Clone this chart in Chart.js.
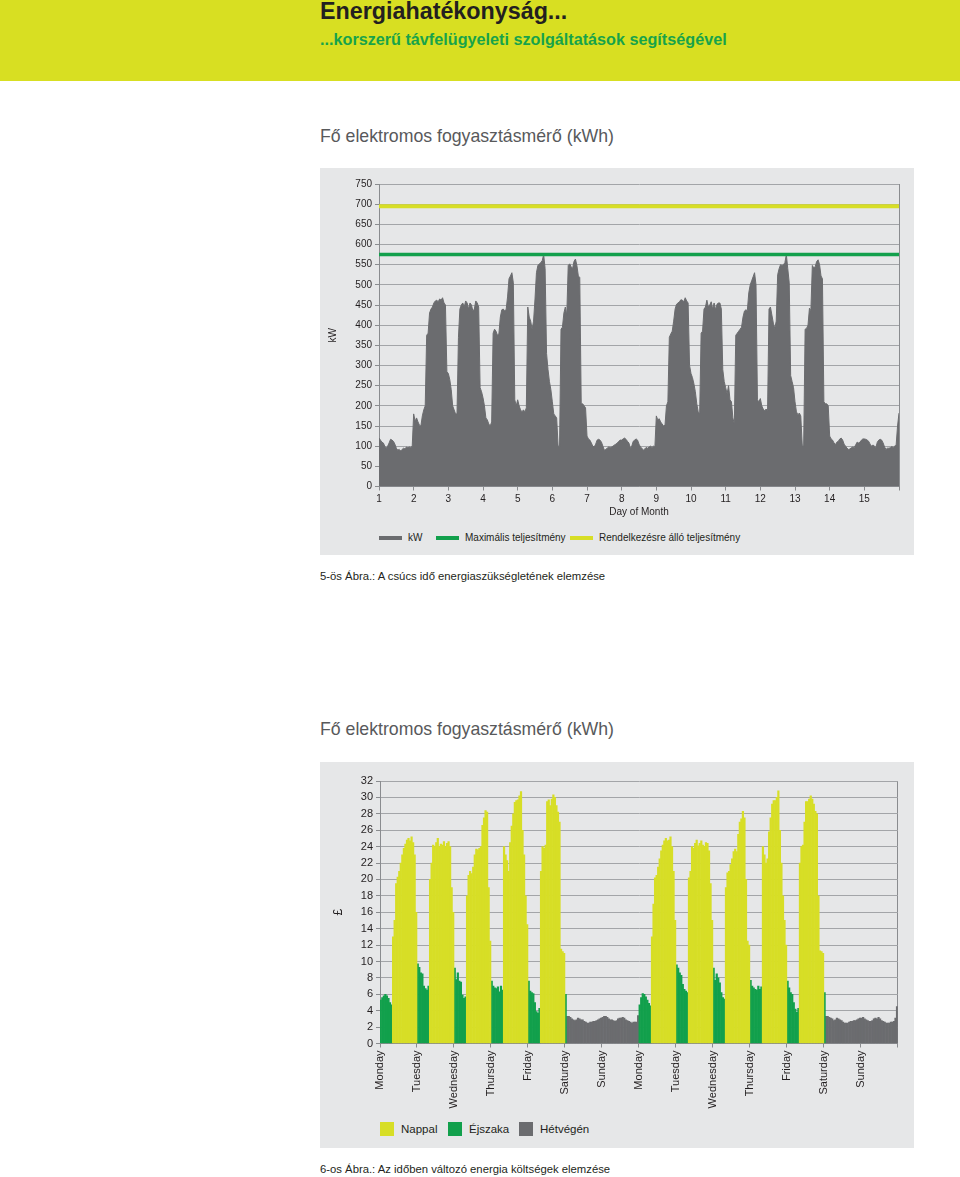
<!DOCTYPE html>
<html lang="hu">
<head>
<meta charset="utf-8">
<title>Energiahatékonyság</title>
<script src="https://cdn.jsdelivr.net/npm/chart.js@4.4.1/dist/chart.umd.min.js"></script>
<style>
  html, body { margin: 0; padding: 0; background: #fff; }
  body { width: 960px; height: 1177px; position: relative; overflow: hidden;
         font-family: "Liberation Sans", Arial, sans-serif; }
  .band { position: absolute; left: 0; top: 0; width: 960px; height: 81px; background: #d8df22; }
  .txt { position: absolute; left: 320px; white-space: nowrap; }
  #title { top: 0; font-size: 23.3px; line-height: 23.3px; font-weight: bold; color: #231f20; }
  #subtitle { top: 31.2px; font-size: 16.2px; line-height: 16.2px; font-weight: bold; color: #17a34a; }
  .chartTitle { font-size: 17.7px; line-height: 17.7px; color: #58595b; }
  .caption { font-size: 11.3px; line-height: 11.3px; color: #231f20; }
  .panel { position: absolute; left: 320px; width: 594px; background: #e6e7e8; }
  .panel canvas { position: absolute; left: 0; top: 0; }
  .leg { position: absolute; display: flex; align-items: center; white-space: nowrap; color: #231f20; }
  .leg i { display: block; flex: none; }
</style>
</head>
<body>
<div class="band"></div>
<div class="txt" id="title">Energiahatékonyság...</div>
<div class="txt" id="subtitle">...korszerű távfelügyeleti szolgáltatások segítségével</div>

<div class="txt chartTitle" style="top:128.2px">Fő elektromos fogyasztásmérő (kWh)</div>
<div class="panel" id="panel1" style="top:168px;height:387px">
  <canvas id="c1" width="594" height="354"></canvas>
</div>
<div class="txt caption" style="top:571.4px">5-ös Ábra.: A csúcs idő energiaszükségletének elemzése</div>

<div class="txt chartTitle" style="top:721.2px">Fő elektromos fogyasztásmérő (kWh)</div>
<div class="panel" id="panel2" style="top:762px;height:386px">
  <canvas id="c2" width="594" height="350"></canvas>
</div>
<div class="txt caption" style="top:1164.4px">6-os Ábra.: Az időben változó energia költségek elemzése</div>

<script>
// === DATA: chart 1, kW per hour, one array per day of month ===
const kwD01 = [120,115,110,108,100,95,100,108,117,115,112,105,95,90,92,88,92,95,93,98,96,98,97,100];
const kwD02 = [180,162,170,160,152,150,175,190,200,375,380,430,440,445,455,460,462,458,465,462,468,455,450,285];
const kwD03 = [280,265,240,200,190,180,180,370,440,450,455,445,460,455,440,455,450,435,440,460,455,445,245,235];
const kwD04 = [220,200,170,165,155,150,160,380,390,385,375,378,420,438,440,436,438,470,515,522,530,505,215,200];
const kwD05 = [215,200,190,185,190,185,195,445,420,410,390,410,465,530,548,552,555,560,575,540,330,290,260,240];
const kwD06 = [210,180,175,170,100,100,390,395,430,445,425,548,552,545,540,558,564,548,522,518,205,205,200,195];
const kwD07 = [125,118,115,108,100,98,105,115,117,115,110,100,90,92,95,98,97,98,100,103,105,108,112,115];
const kwD08 = [115,118,120,117,112,108,95,100,112,115,118,115,105,98,95,90,93,97,95,98,100,97,100,98];
const kwD09 = [175,165,168,160,155,150,152,200,210,370,378,385,410,440,452,455,458,463,462,458,468,460,455,300];
const kwD10 = [280,270,255,235,205,185,180,380,385,440,445,462,445,450,458,440,455,438,452,455,455,440,290,260];
const kwD11 = [245,230,250,215,210,170,155,375,380,385,390,395,420,435,438,436,480,500,510,520,530,500,215,210];
const kwD12 = [218,200,192,188,192,188,440,445,425,405,392,410,525,540,550,548,550,555,575,540,505,275,260,245];
const kwD13 = [210,185,178,182,175,103,100,390,392,400,442,436,548,542,545,558,562,550,522,515,210,205,205,200];
const kwD14 = [125,118,115,108,104,110,112,118,120,115,105,100,95,92,93,96,98,97,103,110,108,110,115,118];
const kwD15 = [118,117,115,112,105,100,103,100,97,110,115,117,115,108,98,92,95,95,96,99,97,100,102,150];
const kwLast = 182;          // reading at the right edge (day 16, 00:00)
const maxPower = 575;        // Maximális teljesítmény
const availablePower = 695;  // Rendelkezésre álló teljesítmény

// === DATA: chart 2, £ per hour, one array per day ===
const mon1 = [5.3,5.6,5.8,6.0,5.8,5.5,5.0,4.7,13,15,19.5,20.3,21,22,23,23.8,24.3,24.8,25,24.7,25.2,24.5,23,16];
const tue1 = [9.7,9.3,8.6,8.5,7.0,6.7,6.5,7.0,20,22,24.2,24,24.5,25,24,24.3,24.2,24.6,24,24.4,24.6,24,19,16];
const wed1 = [9.2,7.8,8.6,7.6,7.5,5.9,5.5,5.7,18,20.5,21,20.7,21.5,23,23.7,23.6,23.8,24,26.6,27.5,28.4,28.2,19,12.5];
const thu1 = [7.6,7.0,6.8,6.7,6.9,6.3,7.0,6.5,24,23,22.3,21,24.5,26.5,28,29.4,29.6,29.7,30.2,30.7,26,23,18,14.5];
const fri1 = [7.6,6.4,6.2,6.1,5.0,3.9,3.7,4.3,21,24,23.8,24.2,29.5,29.7,29,29.8,30.3,30,29,28.2,27,11.5,11.2,11];
const sat1 = [6.0,3.3,3.3,3.2,3.0,2.9,2.8,2.9,3.1,3.0,2.9,2.9,2.7,2.6,2.5,2.5,2.6,2.6,2.7,2.7,2.8,2.9,3.0,3.1];
const sun1 = [3.2,3.3,3.3,3.2,3.0,2.9,2.9,2.8,2.7,2.8,3.0,3.1,3.1,3.2,3.1,2.9,2.8,2.7,2.6,2.5,2.6,2.6,2.6,3.4];
const mon2 = [4.7,5.6,6.1,6.0,5.7,5.3,4.9,4.6,13,17,20.2,20.5,21.5,22.5,23.5,24.2,24.7,25,24.7,24.8,25.2,24,21,15];
const tue2 = [9.6,9.2,8.6,8.3,7.2,6.6,6.4,6.2,20.2,21,24,23.8,24.4,24.8,24.1,24.4,24.7,24.2,24,24.5,24.4,23.5,19.5,15];
const wed2 = [9.2,7.7,8.5,8.0,7.4,6.2,5.6,5.4,19,20.8,21,21.8,22.5,23.4,23.7,23.4,25.5,27,27.4,28.3,27.5,20,12.5,12];
const thu2 = [7.7,7.0,6.8,6.6,6.5,7.0,6.6,6.9,24,23,22,22.5,25.8,27.5,29.2,29.6,29.6,30,30.8,26,22,18,15,12];
const fri2 = [7.6,6.8,6.2,6.0,5.0,4.2,3.8,4.3,22,24,24.2,27,29.5,29.5,29.8,30.2,29.8,29.2,28.3,28,18,11.3,11.2,11];
const sat2 = [6.2,3.3,3.3,3.2,3.1,3.0,2.8,2.9,3.1,3.0,2.9,2.8,2.6,2.5,2.5,2.5,2.6,2.7,2.7,2.8,2.8,2.9,3.0,3.1];
const sun2 = [3.1,3.2,3.0,2.9,2.8,2.7,2.7,2.8,3.0,3.1,3.0,3.2,3.0,2.8,2.7,2.6,2.5,2.5,2.5,2.6,2.6,2.7,3.1,4.5];

// tariff of each hour: E = Éjszaka, N = Nappal, H = Hétvégén
const weekdayBands  = 'EEEEEEEENNNNNNNNNNNNNNNN';
const saturdayBands = 'EHHHHHHHHHHHHHHHHHHHHHHH';
const sundayBands   = 'HHHHHHHHHHHHHHHHHHHHHHHH';
const dayNames = ['Monday','Tuesday','Wednesday','Thursday','Friday','Saturday','Sunday',
                  'Monday','Tuesday','Wednesday','Thursday','Friday','Saturday','Sunday'];

// === COLOURS ===
const GRAY = '#6b6c6f';
const GREEN = '#12a04c';
const YELLOW = '#d7de26';
const GRID = '#a3a5a8';
const AXIS = '#8a8c8f';

Chart.defaults.font.family = "'Liberation Sans', Arial, sans-serif";
Chart.defaults.color = '#231f20';
Chart.defaults.animation = false;

// === CHART 1 (kW over 15 days) ===
const kwDays = [kwD01,kwD02,kwD03,kwD04,kwD05,kwD06,kwD07,kwD08,kwD09,kwD10,kwD11,kwD12,kwD13,kwD14,kwD15];
const kwPoints = kwDays.flatMap((day, d) => day.map((v, h) => ({ x: 1 + d + h / 24, y: v })));
kwPoints.push({ x: 1 + kwDays.length, y: kwLast });

const chart1 = new Chart(document.getElementById('c1'), {
  type: 'line',
  data: {
    datasets: [
      { label: 'kW', data: kwPoints, borderColor: GRAY, backgroundColor: GRAY,
        borderWidth: 1, fill: 'origin', pointRadius: 0, tension: 0, order: 3 },
      { label: 'Maximális teljesítmény', data: [{ x: 1, y: maxPower }, { x: 16, y: maxPower }],
        borderColor: GREEN, backgroundColor: GREEN, borderWidth: 3.5, pointRadius: 0, fill: false, order: 1 },
      { label: 'Rendelkezésre álló teljesítmény', data: [{ x: 1, y: availablePower }, { x: 16, y: availablePower }],
        borderColor: YELLOW, backgroundColor: YELLOW, borderWidth: 4, pointRadius: 0, fill: false, order: 2 }
    ]
  },
  options: {
    responsive: false,
    animation: false,
    layout: { padding: { left: 3, top: 16, right: 15, bottom: 0 } },
    plugins: { legend: { display: false }, tooltip: { enabled: false } },
    scales: {
      x: {
        type: 'linear', min: 1, max: 16,
        afterFit: s => { s.height = 35.5; },
        ticks: { stepSize: 1, autoSkip: false, maxRotation: 0, padding: 3, font: { size: 10 },
                 callback: v => (v < 16 ? v : '') },
        grid: { color: c => (c.tick && c.tick.value === 16 ? AXIS : 'rgba(0,0,0,0)'), tickColor: AXIS, tickLength: 4 },
        border: { color: AXIS },
        title: { display: true, text: 'Day of Month', font: { size: 10 }, padding: { top: 0, bottom: 4 } }
      },
      y: {
        min: 0, max: 750,
        afterFit: s => { s.width = 56; },
        ticks: { stepSize: 50, padding: 3, font: { size: 10 } },
        grid: { color: GRID, tickColor: AXIS, tickLength: 4 },
        border: { color: AXIS },
        title: { display: true, text: 'kW', font: { size: 10 }, padding: { top: 4, bottom: 0 } }
      }
    }
  }
});

// === CHART 2 (£ per tariff over two weeks) ===
const costDays = [mon1,tue1,wed1,thu1,fri1,sat1,sun1,mon2,tue2,wed2,thu2,fri2,sat2,sun2];
const costPoints = { N: [], E: [], H: [] };
costDays.forEach((day, d) => {
  const name = dayNames[d];
  const bands = name === 'Saturday' ? saturdayBands : name === 'Sunday' ? sundayBands : weekdayBands;
  day.forEach((v, h) => costPoints[bands[h]].push({ x: d + (h + 0.5) / 24, y: v }));
});

const chart2 = new Chart(document.getElementById('c2'), {
  type: 'bar',
  data: {
    datasets: [
      { label: 'Nappal', data: costPoints.N, backgroundColor: YELLOW },
      { label: 'Éjszaka', data: costPoints.E, backgroundColor: GREEN },
      { label: 'Hétvégén', data: costPoints.H, backgroundColor: GRAY }
    ]
  },
  options: {
    responsive: false,
    animation: false,
    datasets: { bar: { grouped: false, barPercentage: 1, categoryPercentage: 1, borderWidth: 0 } },
    layout: { padding: { left: 7, top: 19, right: 15, bottom: 0 } },
    plugins: { legend: { display: false }, tooltip: { enabled: false } },
    scales: {
      x: {
        type: 'linear', min: 0, max: 14, offset: false,
        afterFit: s => { s.height = 68.5; },
        ticks: { stepSize: 1, autoSkip: false, minRotation: 90, maxRotation: 90, padding: 3, font: { size: 11 },
                 callback: v => dayNames[v] || '' },
        grid: { offset: false, color: c => (c.tick && c.tick.value === 14 ? AXIS : 'rgba(0,0,0,0)'), tickColor: AXIS, tickLength: 4 },
        border: { color: AXIS }
      },
      y: {
        min: 0, max: 32,
        afterFit: s => { s.width = 53; },
        ticks: { stepSize: 2, padding: 3, font: { size: 11 } },
        grid: { color: GRID, tickColor: AXIS, tickLength: 4 },
        border: { color: AXIS },
        title: { display: true, text: '£', font: { size: 12 }, padding: { top: 4, bottom: 0 } }
      }
    }
  }
});

// === HTML LEGENDS (built from the datasets) ===
function addLegend(chart, panelId, lefts, top, sample, fontSize, gap) {
  const panel = document.getElementById(panelId);
  chart.data.datasets.forEach((ds, i) => {
    const item = document.createElement('div');
    item.className = 'leg';
    item.style.left = lefts[i] + 'px';
    item.style.top = top + 'px';
    item.style.fontSize = fontSize + 'px';
    const mark = document.createElement('i');
    mark.style.width = sample.w + 'px';
    mark.style.height = sample.h + 'px';
    mark.style.background = ds.backgroundColor;
    mark.style.marginRight = gap + 'px';
    const label = document.createElement('span');
    label.textContent = ds.label;
    item.append(mark, label);
    panel.appendChild(item);
  });
}
addLegend(chart1, 'panel1', [59, 116, 250], 364, { w: 23, h: 4 }, 10, 6);
addLegend(chart2, 'panel2', [60, 128, 199], 359.7, { w: 14, h: 14 }, 11.5, 7);
</script>
</body>
</html>
